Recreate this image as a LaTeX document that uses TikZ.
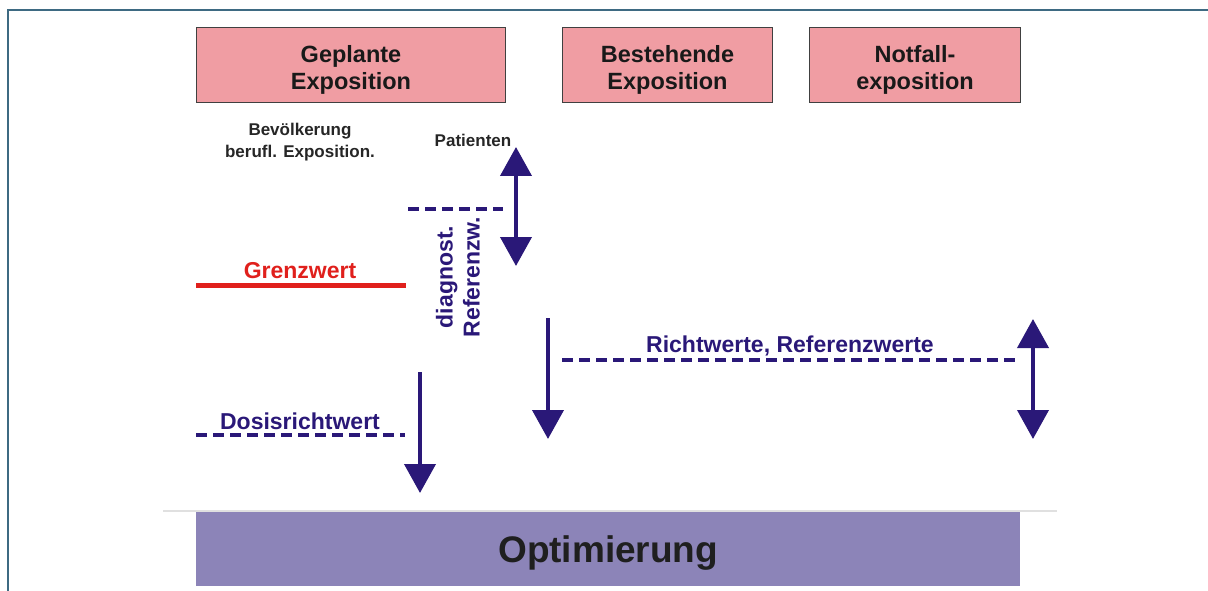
\documentclass[tikz,border=0pt]{standalone}
\usepackage{fontspec}
\setmainfont{Liberation Sans}
\usetikzlibrary{arrows.meta}
\definecolor{framec}{HTML}{3E6A82}
\definecolor{pinkf}{HTML}{F09DA3}
\definecolor{navy}{HTML}{2A1878}
\definecolor{redl}{HTML}{E0201C}
\definecolor{optf}{HTML}{8C84B8}
\tikzset{
  expbox/.style={draw=black!75, line width=1pt, fill=pinkf, anchor=north west, inner sep=0pt, minimum height=75pt},
  exptext/.style={align=center, font=\fontsize{23.5}{27}\selectfont\bfseries, text=black!90, inner sep=0pt},
  lbl/.style={font=\fontsize{17}{22}\selectfont\bfseries, text=black!85, align=center},
  bluelbl/.style={font=\fontsize{23}{27}\selectfont\bfseries, text=navy, align=center},
  dline/.style={navy, line width=4.5pt, dash pattern=on 11pt off 6pt},
  bigarrow/.style={navy, line width=4pt, -{Triangle[width=31pt,length=29pt]}},
  dblarrow/.style={navy, line width=4pt, {Triangle[width=31pt,length=29pt]}-{Triangle[width=31pt,length=29pt]}},
}
\begin{document}
\begin{tikzpicture}[x=1pt,y=-1pt]
\useasboundingbox (0,0) rectangle (1208,591);
% frame
\draw[framec, line width=2pt] (8,591) -- (8,10) -- (1208,10);
% top boxes
\node[expbox, minimum width=309pt] (geplant) at (196,27) {};
\node[exptext, yshift=-5pt] (geplantT) at (geplant.center) {Geplante\\Exposition};
\node[expbox, minimum width=210pt] (besteh) at (562,27) {};
\node[exptext, yshift=-5pt] (bestehT) at (besteh.center) {Bestehende\\Exposition};
\node[expbox, minimum width=211pt] (notfall) at (809,27) {};
\node[exptext, yshift=-5pt] (notfallT) at (notfall.center) {Notfall-\\exposition};
% labels
\node[lbl] (bev) at (300,142) {Bevölkerung\\berufl. Exposition.};
\node[lbl] (pat) at (473,140) {Patienten};
% patient double arrow
\coordinate (pa1) at (516,147);
\coordinate (pa2) at (516,266);
\draw[dblarrow] (pa1) -- (pa2);
% diagnostic reference dashed
\coordinate (dr1) at (408,209);
\coordinate (dr2) at (503,209);
\draw[dline] (dr1) -- (dr2);
\node[rotate=90, bluelbl] (diag) at (458,277) {diagnost.\\Referenzw.};
% Grenzwert
\coordinate (gw1) at (196,285);
\coordinate (gw2) at (406,285);
\draw[redl, line width=5pt] (gw1) -- (gw2);
\node[font=\fontsize{23}{25}\selectfont\bfseries, text=redl] (gwl) at (300,271) {Grenzwert};
% arrow under bestehende
\coordinate (ba1) at (548,318);
\coordinate (ba2) at (548,439);
\draw[bigarrow] (ba1) -- (ba2);
% Richtwerte
\coordinate (rw1) at (562,360);
\coordinate (rw2) at (1020,360);
\draw[dline] (rw1) -- (rw2);
\node[bluelbl] (rwl) at (790,346) {Richtwerte, Referenzwerte};
% notfall double arrow
\coordinate (na1) at (1033,319);
\coordinate (na2) at (1033,439);
\draw[dblarrow] (na1) -- (na2);
% Dosisrichtwert
\coordinate (ds1) at (196,435);
\coordinate (ds2) at (405,435);
\draw[dline] (ds1) -- (ds2);
\node[bluelbl] (dsl) at (300,421) {Dosisrichtwert};
\coordinate (da1) at (420,372);
\coordinate (da2) at (420,493);
\draw[bigarrow] (da1) -- (da2);
% gray line and optimierung
\coordinate (gl1) at (163,511);
\coordinate (gl2) at (1057,511);
\draw[black!12, line width=1.5pt] (gl1) -- (gl2);
\node[fill=optf, minimum width=824pt, minimum height=74pt, anchor=north west, inner sep=0pt] (opt) at (196,512) {};
\node[font=\fontsize{37}{40}\selectfont\bfseries, text=black!88, inner sep=0pt, yshift=-4pt] (optT) at (opt.center) {Optimierung};
\end{tikzpicture}
\end{document}
